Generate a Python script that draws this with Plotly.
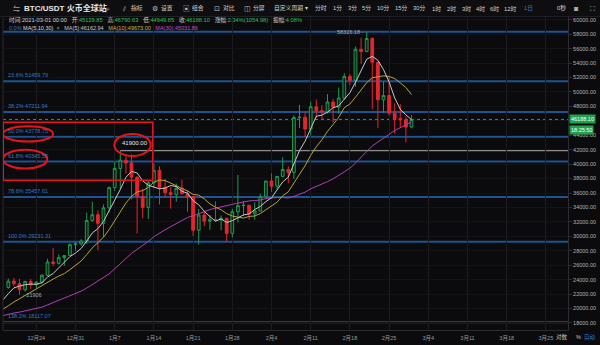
import pandas as pd
import plotly.graph_objects as go

# ---------------- data ----------------
dates = pd.date_range("2020-12-19", "2021-03-01", freq="D")
opens = [22900, 23800, 23450, 22600, 23750, 23300, 23650, 24600, 26450, 26250,
         27050, 27350, 28850, 28950, 29350, 32200, 33000, 31800, 33950, 36750,
         39400, 40550, 40150, 38200, 35550, 34000, 37400, 39150, 36800, 36050,
         35800, 36650, 35900, 35500, 30850, 32950, 32100, 32300, 32250, 32500,
         30400, 33400, 34250, 34300, 33100, 33500, 35500, 37650, 36950, 38300,
         39250, 38850, 46450, 46500, 44850, 47950, 47400, 47200, 48600, 47900,
         49150, 52150, 51600, 55900, 55600, 57400, 54100, 48900, 49500, 47050,
         46300, 46150, 45129.85]
highs = [24150, 24250, 24100, 23850, 24100, 23800, 24750, 26900, 28400, 27500,
         27400, 29000, 29300, 29600, 33300, 34800, 33600, 34400, 36900, 40350,
         41900, 41350, 41350, 38300, 36600, 37800, 40100, 39700, 37950, 36850,
         37300, 37850, 36400, 35600, 33800, 33450, 32950, 34850, 32900, 32550,
         33800, 38500, 34900, 34350, 34700, 35900, 37700, 38700, 38300, 40950,
         39700, 46750, 48200, 47300, 48650, 48950, 48150, 49700, 49000, 50600,
         52600, 52500, 56300, 57500, 58326.18, 57550, 54200, 51400, 52000, 48400,
         48300, 46600, 46790.63]
lows = [22750, 23050, 21906, 22350, 22700, 22800, 23400, 24500, 25850, 26100,
        25900, 27300, 28000, 28700, 28950, 32000, 28100, 29900, 33300, 36300,
        36500, 38700, 35100, 30400, 32500, 32400, 36700, 34400, 35400, 33850,
        34800, 35800, 33400, 30050, 28850, 31400, 30900, 32050, 30850, 29250,
        29850, 31900, 32850, 32300, 32300, 33400, 35350, 36150, 36550, 38200,
        37350, 37950, 45000, 43750, 43950, 46400, 46200, 47000, 45800, 47000,
        48900, 50900, 50700, 53900, 55500, 47600, 45000, 47100, 46700, 44200,
        45100, 43000, 44949.85]
closes = [23800, 23450, 22600, 23750, 23300, 23650, 24600, 26450, 26250, 27050,
          27350, 28850, 28950, 29350, 32200, 33000, 31800, 33950, 36750, 39400,
          40550, 40150, 38200, 35550, 34000, 37400, 39150, 36800, 36050, 35800,
          36650, 35900, 35500, 30850, 32950, 32100, 32300, 32250, 32500, 30400,
          33400, 34250, 34300, 33100, 33500, 35500, 37650, 36950, 38300, 39250,
          38850, 46450, 46500, 44850, 47950, 47400, 47200, 48600, 47900, 49150,
          52150, 51600, 55900, 55600, 57400, 54100, 48900, 49500, 47050, 46300,
          46150, 45129.85, 46188.10]
# closes before the visible window (Nov 19 - Dec 18), used only for the moving averages
history_dates = pd.date_range("2020-11-19", "2020-12-18", freq="D")
history_closes = [17800, 18680, 18700, 18410, 18370, 19160, 18720, 17150, 17140, 17720,
                  18180, 19700, 18790, 19220, 19450, 18700, 19150, 19360, 19170, 18320,
                  18550, 18250, 18040, 18800, 19170, 19270, 19440, 21350, 22800, 22900]

# values printed in the header (as shown on the chart)
ma_names = ["MA(5)", "MA(10)", "MA(30)"]
ma_header_values = [46162.94, 49673.00, 45031.86]
change_text = "2.34%(1054.98)"
amplitude_text = "4.08%"

fib_labels = ["0.0%", "23.6%", "38.2%", "50.0%", "61.8%", "78.6%", "100.0%", "138.2%"]
fib_values = [58326.18, 51459.79, 47211.94, 43778.75, 40345.55, 35457.61, 29231.31, 18117.07]
marked_level = 41900.00
last_price = 46188.10
swing_low = 21906
tick_dates = pd.date_range("2020-12-24", "2021-03-25", freq="7D")
tick_text = ["12月24", "12月31", "1月7", "1月14", "1月21", "1月28", "2月4", "2月11",
             "2月18", "2月25", "3月4", "3月11", "3月18", "3月25"]
price_ticks = list(range(18000, 60001, 2000))
hidden_tick = 46000  # covered by the last-price tag on the chart

# ---------------- moving averages ----------------
all_close = pd.Series(history_closes + closes, index=history_dates.append(dates))
ma5 = all_close.rolling(5).mean()["2020-12-17":]
ma10 = all_close.rolling(10).mean()["2020-12-17":]
ma30 = all_close.rolling(30).mean()["2020-12-17":]

# ---------------- layout helpers ----------------
W, H = 600, 345
L, R, T, B = 3, 32, 17, 12
PW, PH = W - L - R, H - T - B
def px(xp):
    return (xp - L) / PW
def py(yp):
    return (H - B - yp) / PH

FONT = "Liberation Sans, Noto Sans CJK SC, sans-serif"
BG = "#0b0b0d"
day = pd.Timedelta(days=1)
d0 = dates[0]
x_start = d0 - 0.95 * day
x_end = d0 + 99.95 * day
y_range = [17027, 60373]

fig = go.Figure()
fig.add_trace(go.Candlestick(
    x=dates, open=opens, high=highs, low=lows, close=closes,
    increasing=dict(line=dict(color="#1f9950", width=1), fillcolor="#0c2416"),
    decreasing=dict(line=dict(color="#e3262e", width=1), fillcolor="#e3262e"),
    hoverinfo="skip", showlegend=False))
for s, c in [(ma30, "#b03fb5"), (ma10, "#b5a33c"), (ma5, "#c8c8c8")]:
    fig.add_trace(go.Scatter(x=s.index, y=s.values, mode="lines",
                             line=dict(color=c, width=1), hoverinfo="skip", showlegend=False))

shapes = []
annotations = []

# toolbar band
shapes.append(dict(type="rect", xref="paper", yref="paper", x0=px(0), x1=px(600),
                   y0=py(16.5), y1=py(0), fillcolor="#0e0e11", line=dict(width=0), layer="above"))
shapes.append(dict(type="line", xref="paper", yref="paper", x0=px(0), x1=px(600),
                   y0=py(16.5), y1=py(16.5), line=dict(color="#202024", width=1), layer="above"))

# fibonacci levels
for lab, v in zip(fib_labels, fib_values):
    shapes.append(dict(type="line", xref="paper", yref="y", x0=0, x1=1, y0=v, y1=v,
                       line=dict(color="#1d5391", width=2), layer="below"))
    if lab != "0.0%":
        annotations.append(dict(xref="paper", yref="y", x=px(6), y=v, xanchor="left",
                                yanchor="bottom", yshift=1, showarrow=False,
                                text=f"{lab} {v:.2f}",
                                font=dict(size=5.5, color="#2f78c8", family=FONT)))

# current price dotted line
shapes.append(dict(type="line", xref="paper", yref="y", x0=0, x1=1, y0=last_price, y1=last_price,
                   line=dict(color="#2e9e50", width=1, dash="dot"), layer="below"))
# marked 41900 level
shapes.append(dict(type="line", xref="x", yref="y", x0=dates[20], x1=x_end,
                   y0=marked_level, y1=marked_level, line=dict(color="#8c8c8c", width=1.5),
                   layer="below"))
# left edge line
shapes.append(dict(type="line", xref="paper", yref="paper", x0=0, x1=0, y0=0, y1=1,
                   line=dict(color="#2b2b30", width=1)))

# red hand-drawn marks
RED = "#e8141c"
shapes.append(dict(type="rect", xref="x", yref="y", x0=d0 - 0.9 * day, x1=d0 + 25.8 * day,
                   y0=37781, y1=45792, line=dict(color=RED, width=1.5)))
shapes.append(dict(type="circle", xref="x", yref="y", x0=d0 - 0.95 * day, x1=d0 + 8.0 * day,
                   y0=43130, y1=45243, line=dict(color=RED, width=2)))
shapes.append(dict(type="circle", xref="x", yref="y", x0=d0 - 0.95 * day, x1=d0 + 6.96 * day,
                   y0=39386, y1=41993, line=dict(color=RED, width=2)))
shapes.append(dict(type="circle", xref="x", yref="y", x0=d0 + 18.93 * day, x1=d0 + 25.43 * day,
                   y0=41128, y1=44187, line=dict(color=RED, width=2)))

annotations.append(dict(xref="x", yref="y", x=d0 + 22.6 * day, y=marked_level, yanchor="bottom",
                        yshift=2, showarrow=False, text=f"{marked_level:.2f}",
                        font=dict(size=6, color="#e6e6e6", family=FONT)))
annotations.append(dict(xref="x", yref="y", x=dates[64], y=max(highs), xanchor="right",
                        xshift=-2, showarrow=False, text=f"{max(highs):.2f} -",
                        font=dict(size=5.5, color="#a8a8a8", family=FONT)))
annotations.append(dict(xref="x", yref="y", x=dates[2], y=swing_low, xanchor="left",
                        xshift=1, showarrow=False, text=f"- {swing_low}",
                        font=dict(size=5.5, color="#a8a8a8", family=FONT)))

# right price tags
annotations.append(dict(xref="paper", yref="y", x=1, y=last_price, xanchor="left", xshift=1,
                        yanchor="middle", showarrow=False, text=f"{last_price:.2f}",
                        bgcolor="#21a150", borderpad=1,
                        font=dict(size=5.5, color="#ffffff", family=FONT)))
annotations.append(dict(xref="paper", yref="y", x=1, y=last_price, xanchor="left", xshift=1,
                        yanchor="middle", yshift=-11, showarrow=False, text="18:25:50",
                        bgcolor="#21a150", borderpad=1,
                        font=dict(size=5.5, color="#ffffff", family=FONT)))

# info rows
G = "#2fbf60"
W1 = "#cfcfcf"
info = (f"<span style='color:{W1}'>时间:2021-03-01 00:00</span>   "
        f"<span style='color:{W1}'>开:</span><span style='color:{G}'>{opens[-1]:.2f}</span>   "
        f"<span style='color:{W1}'>高:</span><span style='color:{G}'>{highs[-1]:.2f}</span>   "
        f"<span style='color:{W1}'>低:</span><span style='color:{G}'>{lows[-1]:.2f}</span>   "
        f"<span style='color:{W1}'>收:</span><span style='color:{G}'>{closes[-1]:.2f}</span>   "
        f"<span style='color:{W1}'>涨幅:</span><span style='color:{G}'>{change_text}</span>   "
        f"<span style='color:{W1}'>振幅:</span><span style='color:{G}'>{amplitude_text}</span>")
annotations.append(dict(xref="paper", yref="paper", x=px(7), y=py(20), xanchor="left",
                        yanchor="middle", showarrow=False, text=info,
                        font=dict(size=5.7, color=W1, family=FONT)))
ma_colors = ["#c8c8c8", "#c9b640", "#c04fc4"]
legend_txt = ("<span style='color:#2f78c8'>0.0%</span> "
              "<span style='color:#dcdcdc'>MA(5,10,30)</span>  "
              "<span style='color:#9a9a9a'>×</span>   " +
              "   ".join(f"<span style='color:{c}'>{n}:{v:.2f}</span>"
                         for n, v, c in zip(ma_names, ma_header_values, ma_colors)))
annotations.append(dict(xref="paper", yref="paper", x=px(7), y=py(28.5), xanchor="left",
                        yanchor="middle", showarrow=False, text=legend_txt,
                        font=dict(size=5.5, family=FONT)))

# toolbar texts
def tb(x, text, size=5.8, color="#d4d4d4", anchor="left"):
    annotations.append(dict(xref="paper", yref="paper", x=px(x), y=py(8), xanchor=anchor,
                            yanchor="middle", showarrow=False, text=text,
                            font=dict(size=size, color=color, family=FONT)))
tb(11, "⇋", 7)
tb(22, "<b>BTC/USDT 火币全球站</b>", 8, "#e6e6e6")
tb(104, "⌕", 7)
for x, icon, t in [(120, "⫽", "指标"), (150, "⚙", "设置"), (181, "▣", "组合"),
                   (212, "⊡", "对比"), (242, "◫", "分屏")]:
    tb(x, icon, 6.5, "#bdbdbd")
    tb(x + 9, t)
tb(272, "自定义周期 ▾")
for x, t in [(313, "分时"), (331, "1分"), (346, "3分"), (360, "5分"), (375, "10分"),
             (393, "15分"), (411, "30分"), (430, "1时"), (445, "2时"), (460, "3时"),
             (474, "4时"), (488, "6时"), (502, "12时")]:
    tb(x, t)
tb(522, "1日", color="#2f7bd8")
tb(555, "0秒")
tb(572, "◙", 7, "#bdbdbd")
tb(588, "⛶", 7, "#bdbdbd")

# bottom-right controls
for x, t, c in [(554, "对数", "#c8c8c8"), (574, "%", "#c8c8c8"), (582, "自动", "#2f7bd8")]:
    annotations.append(dict(xref="paper", yref="paper", x=px(x), y=py(340), xanchor="left",
                            yanchor="middle", showarrow=False, text=t,
                            font=dict(size=5.5, color=c, family=FONT)))

fig.update_layout(
    width=W, height=H, margin=dict(l=L, r=R, t=T, b=B),
    paper_bgcolor=BG, plot_bgcolor=BG,
    shapes=shapes, annotations=annotations,
    showlegend=False, boxgap=0.3,
    xaxis=dict(type="date", range=[x_start, x_end], rangeslider=dict(visible=False),
               tickvals=tick_dates, ticktext=tick_text, showgrid=True, gridcolor="#1b1b20",
               gridwidth=1, showline=True, linecolor="#2b2b30", zeroline=False,
               ticks="outside", ticklen=2, tickcolor=BG,
               tickfont=dict(size=5.5, color="#9a9a9a", family=FONT)),
    yaxis=dict(side="right", range=y_range, tickvals=price_ticks,
               ticktext=["" if v == hidden_tick else f"{v:.2f}" for v in price_ticks],
               showgrid=True, gridcolor="#131317", showline=True, linecolor="#2b2b30",
               zeroline=False, ticks="outside", ticklen=3, tickcolor="#2b2b30",
               tickfont=dict(size=5.5, color="#b4b4b4", family=FONT)),
)

fig.write_html("out.html")
